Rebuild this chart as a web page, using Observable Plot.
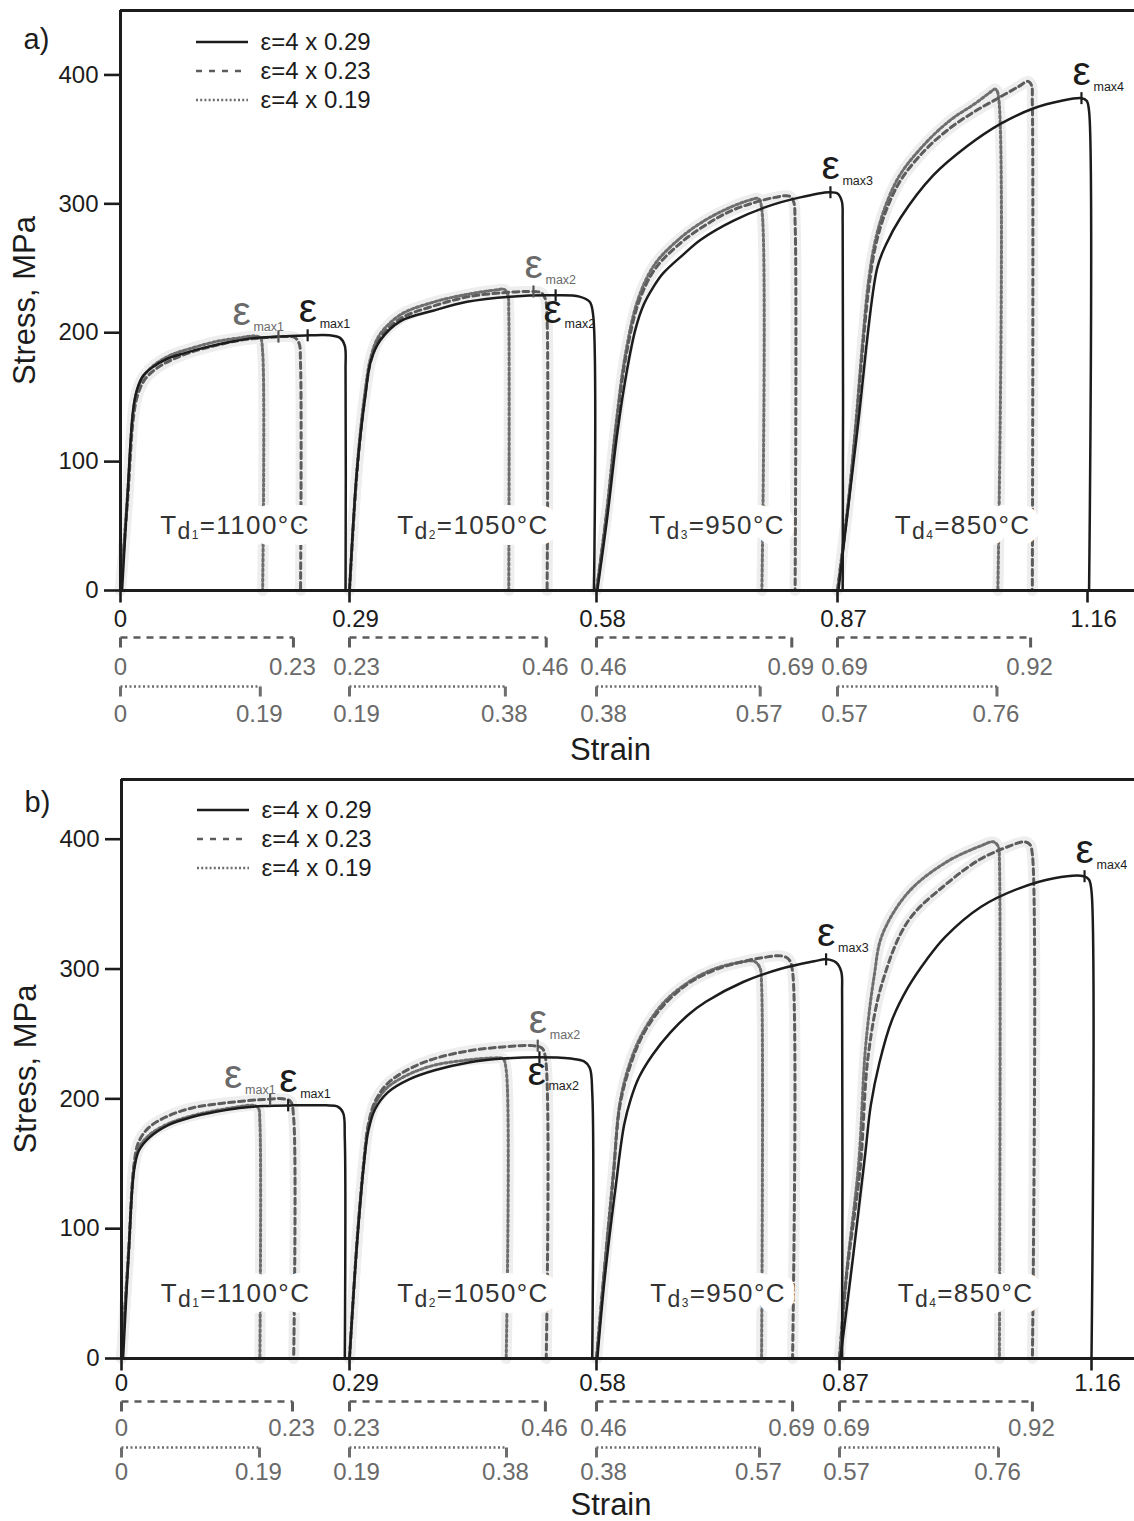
<!DOCTYPE html>
<html><head><meta charset="utf-8">
<script src="https://cdn.jsdelivr.net/npm/d3@7"></script>
<script src="https://cdn.jsdelivr.net/npm/@observablehq/plot@0.6"></script>
<style>body{margin:0;background:#fff}svg{display:block}</style>
</head><body><div id="chart"></div>
<script>
// ---------- shared labels ----------
const passStarts = [0, 0.29, 0.58, 0.87];
const axisKnots = [0, 0.29, 0.58, 0.87, 1.16, 1.22];
const mainTicks = [0, 0.29, 0.58, 0.87, 1.16];
const mainTickLabels = ["0", "0.29", "0.58", "0.87", "1.16"];
const dashRowLabels = ["0", "0.23", "0.23", "0.46", "0.46", "0.69", "0.69", "0.92"];
const dotRowLabels = ["0", "0.19", "0.19", "0.38", "0.38", "0.57", "0.57", "0.76"];
const yTicks = [0, 100, 200, 300, 400];
const legendLabels = ["ε=4 x 0.29", "ε=4 x 0.23", "ε=4 x 0.19"];
const tempLabels = ["Td1=1100°C", "Td2=1050°C", "Td3=950°C", "Td4=850°C"];
const tempStress = 50;

// ---------- panel a: [strain within pass, stress MPa] ----------
const aSolid = [
  [[0.002,0],[0.009,75],[0.016,140],[0.021,156],[0.028,166],[0.04,173],[0.06,180],[0.08,184],[0.11,189],[0.14,193],[0.17,196],[0.2,197],[0.24,198],[0.265,198],[0.278,196],[0.284,190],[0.285,170],[0.285,0]],
  [[0,0],[0.009,95],[0.019,153],[0.025,178],[0.036,194],[0.06,209],[0.098,217],[0.138,224],[0.189,228],[0.242,229],[0.27,228],[0.282,224],[0.286,214],[0.287,0]],
  [[0.001,0],[0.013,57],[0.025,122],[0.037,172],[0.047,203],[0.057,222],[0.068,235],[0.08,246],[0.105,261],[0.125,272],[0.165,287],[0.206,298],[0.245,305],[0.28,309],[0.29,308],[0.295,302],[0.296,285],[0.296,0]],
  [[0.001,0],[0.023,124],[0.046,250],[0.056,268],[0.073,289],[0.111,322],[0.151,345],[0.189,362],[0.227,374],[0.26,380],[0.283,382],[0.289,380],[0.292,372],[0.292,0]]
];
const aDash = [
  [[0,0],[0.009,70],[0.016,132],[0.021,150],[0.03,163],[0.045,172],[0.065,179],[0.09,185],[0.12,190],[0.15,194],[0.18,196],[0.205,197],[0.22,196.5],[0.226,192],[0.228,175],[0.228,0]],
  [[0,0],[0.009,93],[0.018,150],[0.025,178],[0.035,195],[0.06,211],[0.1,221],[0.14,228],[0.18,231],[0.21,232],[0.225,231],[0.23,226],[0.232,210],[0.232,0]],
  [[0,0],[0.012,58],[0.024,128],[0.035,180],[0.05,222],[0.07,249],[0.1,269],[0.13,283],[0.16,294],[0.19,301],[0.215,305],[0.232,306],[0.237,302],[0.239,285],[0.239,0]],
  [[0,0],[0.013,70],[0.021,124],[0.029,186],[0.036,233],[0.044,267],[0.056,294],[0.073,318],[0.102,342],[0.131,359],[0.16,372],[0.189,383],[0.21,391],[0.221,395],[0.225,392],[0.226,378],[0.226,0]]
];
const aDot = [
  [[0,0],[0.009,75],[0.016,138],[0.021,155],[0.03,167],[0.045,176],[0.065,183],[0.09,188],[0.12,193],[0.15,196],[0.17,197.5],[0.177,196],[0.18,185],[0.18,0]],
  [[0,0],[0.009,96],[0.018,153],[0.025,181],[0.035,198],[0.06,214],[0.1,224],[0.14,230],[0.17,233],[0.182,233.5],[0.186,229],[0.187,215],[0.187,0]],
  [[0,0],[0.012,60],[0.024,132],[0.035,184],[0.05,226],[0.07,253],[0.1,273],[0.13,287],[0.16,297],[0.185,303],[0.195,304],[0.199,295],[0.199,0]],
  [[0,0],[0.013,72],[0.021,128],[0.029,192],[0.036,240],[0.044,272],[0.056,299],[0.073,323],[0.102,347],[0.131,365],[0.16,378],[0.176,386],[0.183,389],[0.186,386],[0.186,0]]
];
const aDashEnds = [0.219, 0.231, 0.235, 0.224];
const aDotEnds = [0.177, 0.183, 0.197, 0.185];
const aPeaks = [
  {pass: 0, s: 0.200, v: 197, sub: "max1", tone: "gray", place: "aboveLeft"},
  {pass: 0, s: 0.237, v: 198, sub: "max1", tone: "black", place: "above"},
  {pass: 1, s: 0.216, v: 232, sub: "max2", tone: "gray", place: "above"},
  {pass: 1, s: 0.242, v: 229, sub: "max2", tone: "black", place: "below"},
  {pass: 2, s: 0.2815, v: 309, sub: "max3", tone: "black", place: "above"},
  {pass: 3, s: 0.283, v: 382, sub: "max4", tone: "black", place: "above"}
];

// ---------- panel b ----------
const bSolid = [
  [[0.002,0],[0.009,80],[0.016,145],[0.022,160],[0.035,170],[0.06,180],[0.09,186],[0.12,190],[0.15,193],[0.18,194.5],[0.22,195],[0.26,195],[0.275,194],[0.282,189],[0.284,170],[0.284,0]],
  [[0,0],[0.009,90],[0.017,150],[0.022,175],[0.03,192],[0.045,205],[0.07,215],[0.1,222],[0.14,228],[0.18,231],[0.22,232],[0.26,231],[0.275,229],[0.282,224],[0.285,205],[0.285,0]],
  [[0.001,0],[0.01,63],[0.023,133],[0.033,180],[0.041,200],[0.051,217],[0.067,234],[0.088,251],[0.11,265],[0.131,275],[0.175,290],[0.219,300],[0.26,306],[0.274,307.5],[0.286,305],[0.292,298],[0.293,280],[0.293,0]],
  [[0.001,0],[0.015,75],[0.03,160],[0.036,195],[0.046,228],[0.06,260],[0.079,286],[0.1,307],[0.122,325],[0.163,348],[0.206,362],[0.247,370],[0.281,371.5],[0.287,369],[0.29,360],[0.29,0]]
];
const bDash = [
  [[0,0],[0.009,82],[0.016,150],[0.022,167],[0.035,178],[0.06,187],[0.09,193],[0.12,196],[0.15,198],[0.18,199.5],[0.205,200],[0.215,198],[0.219,185],[0.219,0]],
  [[0,0],[0.009,92],[0.017,153],[0.022,180],[0.03,198],[0.045,212],[0.07,223],[0.1,231],[0.14,237],[0.18,240],[0.215,241],[0.226,239],[0.23,232],[0.231,0]],
  [[0,0],[0.009,65],[0.02,140],[0.028,195],[0.04,225],[0.056,250],[0.08,272],[0.11,289],[0.14,299],[0.17,305],[0.2,309],[0.222,310],[0.23,307],[0.234,298],[0.234,0]],
  [[0,0],[0.008,63],[0.024,148],[0.033,233],[0.049,289],[0.079,337],[0.122,365],[0.163,385],[0.197,395],[0.212,398],[0.219,396],[0.222,388],[0.222,0]]
];
const bDot = [
  [[0,0],[0.009,81],[0.016,147],[0.022,162],[0.035,172],[0.06,181],[0.09,187],[0.12,191],[0.15,194],[0.168,195],[0.174,193],[0.176,182],[0.176,0]],
  [[0,0],[0.009,91],[0.017,152],[0.022,178],[0.03,196],[0.045,209],[0.07,219],[0.1,226],[0.14,230],[0.17,231.5],[0.18,231],[0.184,222],[0.184,0]],
  [[0,0],[0.009,66],[0.02,142],[0.028,197],[0.04,228],[0.056,252],[0.08,274],[0.11,290],[0.14,300],[0.17,305],[0.188,306],[0.195,301],[0.197,288],[0.197,0]],
  [[0,0],[0.008,65],[0.022,150],[0.03,240],[0.04,295],[0.049,326],[0.079,359],[0.122,382],[0.163,395],[0.177,398],[0.183,394],[0.184,385],[0.184,0]]
];
const bDashEnds = [0.2175, 0.230, 0.234, 0.222];
const bDotEnds = [0.1755, 0.1843, 0.1945, 0.183];
const bPeaks = [
  {pass: 0, s: 0.189, v: 199.5, sub: "max1", tone: "gray", place: "aboveLeft"},
  {pass: 0, s: 0.212, v: 195, sub: "max1", tone: "black", place: "above"},
  {pass: 1, s: 0.221, v: 241, sub: "max2", tone: "gray", place: "above"},
  {pass: 1, s: 0.223, v: 232, sub: "max2", tone: "black", place: "below"},
  {pass: 2, s: 0.274, v: 307.5, sub: "max3", tone: "black", place: "above"},
  {pass: 3, s: 0.282, v: 371.5, sub: "max4", tone: "black", place: "above"}
];

// ---------- styling ----------
const FONT = "'Liberation Sans', Arial, Helvetica, sans-serif";
const INK = "#1c1c1c", DASH = "#5c5c5c", DOT = "#6e6e6e", GTXT = "#6a6a6a", HALO = "#eeeeee";
const tones = {black: INK, gray: "#6a6a6a"};
const places = {
  aboveLeft: {edx: -46, edy: -12, mdx: -25, mdy: -6},
  above: {edx: -9, edy: -13, mdx: 12, mdy: -7},
  below: {edx: -12, edy: 28, mdx: 9, mdy: 33}
};
const vbar = {draw(ctx, size) { const r = Math.sqrt(size / Math.PI); ctx.moveTo(0, -r); ctx.lineTo(0, r); }};
const downTick = {draw(ctx, size) { const r = Math.sqrt(size / Math.PI); ctx.moveTo(0, 0); ctx.lineTo(0, r); }};

function rows(series, name) {
  const out = [];
  series.forEach((pts, k) => pts.forEach(([s, v]) => out.push({key: name + k, x: passStarts[k] + s, y: v})));
  return out;
}
function bracketTicks(ends, labels) {
  return passStarts.flatMap((s, k) => [
    {x: s, label: labels[2 * k], side: k === 0 ? "origin" : "start"},
    {x: s + ends[k], label: labels[2 * k + 1], side: "end"}]);
}
function bracketSpans(ends) { return passStarts.map((s, k) => ({x1: s, x2: s + ends[k]})); }
const labelShift = {origin: 0, start: 7, end: -1};

function legendLines(top) {
  const styles = [
    {stroke: INK, width: 2.6, dash: null},
    {stroke: DASH, width: 2.6, dash: "6,7"},
    {stroke: DOT, width: 2.6, dash: "2,2.2"}
  ];
  return function (index, scales, values, dims) {
    const g = d3.create("svg:g");
    styles.forEach((st, i) => {
      const y = dims.marginTop + top + 29 * i;
      const l = g.append("line").attr("x1", dims.marginLeft + 76).attr("x2", dims.marginLeft + 128)
        .attr("y1", y).attr("y2", y).attr("stroke", st.stroke).attr("stroke-width", st.width);
      if (st.dash) l.attr("stroke-dasharray", st.dash);
    });
    return g.node();
  };
}

function richText(svg) {
  const ns = "http://www.w3.org/2000/svg";
  svg.querySelectorAll("text").forEach(t => {
    const m = t.textContent.match(/^Td(\d)(=.+)$/);
    if (!m) return;
    t.textContent = "";
    const add = (txt, attrs) => {
      const s = document.createElementNS(ns, "tspan");
      s.textContent = txt;
      for (const k in attrs) s.setAttribute(k, attrs[k]);
      t.appendChild(s);
    };
    add("T", {});
    add("d", {"font-size": 23, dy: 5});
    add(m[1], {"font-size": 12});
    add(m[2], {"font-size": 26, dy: -5});
    t.setAttribute("letter-spacing", "1.4");
  });
}

function panel(P) {
  const L = P.layout;
  // the original figure's strain axis is not uniformly spaced between its ticks
  const px = L.knotPixels;
  const warp = d3.scaleLinear().domain(axisKnots).range(px.map(p => (p - px[0]) * 1.16 / (px[4] - px[0])));
  const s29 = rows(P.solid, "s"), s23 = rows(P.dash, "d"), s19 = rows(P.dot, "o");
  const peaks = P.peaks.map(p => ({x: passStarts[p.pass] + p.s, y: p.v, sub: p.sub, tone: p.tone, place: p.place}));
  const temps = tempLabels.map((t, k) => ({x: passStarts[k] + 0.145, y: tempStress, t}));
  const mainTickData = mainTicks.map((x, i) => ({x, label: mainTickLabels[i], side: i === 0 ? "origin" : "start"}));
  const peakMarks = [];
  for (const place of Object.keys(places)) {
    for (const tone of Object.keys(tones)) {
      const sel = peaks.filter(p => p.place === place && p.tone === tone);
      if (!sel.length) continue;
      const o = places[place];
      peakMarks.push(
        Plot.text(sel, {x: "x", y: "y", text: () => "ε", dx: o.edx, dy: o.edy, fontSize: 41, textAnchor: "start", lineAnchor: "bottom", fill: tones[tone]}),
        Plot.text(sel, {x: "x", y: "y", text: "sub", dx: o.mdx, dy: o.mdy, fontSize: 12.5, textAnchor: "start", lineAnchor: "bottom", fill: tones[tone]})
      );
    }
  }
  const rowMarks = [];
  for (const [ends, labels, color, dash, lineDy, labDy] of [
    [P.dashEnds, dashRowLabels, DASH, "7,6", L.rowDash, L.labDash],
    [P.dotEnds, dotRowLabels, DOT, "2,2.5", L.rowDot, L.labDot]]) {
    const ticks = bracketTicks(ends, labels);
    rowMarks.push(
      Plot.link(bracketSpans(ends), {x1: "x1", x2: "x2", y1: 0, y2: 0, dy: lineDy, stroke: color, strokeWidth: 2.6, strokeDasharray: dash}),
      Plot.dot(ticks, {x: "x", y: 0, dy: lineDy, symbol: downTick, r: 10, stroke: color, strokeWidth: 3, fill: "none"})
    );
    for (const side of Object.keys(labelShift)) {
      rowMarks.push(Plot.text(ticks.filter(t => t.side === side), {x: "x", y: 0, dx: labelShift[side], dy: labDy, text: "label", fontSize: 24, fill: GTXT}));
    }
  }
  const legendText = legendLabels.map((t, i) =>
    Plot.text([t], {text: d => d, frameAnchor: "top-left", dx: 140, dy: L.legendTop + 29 * i, lineAnchor: "middle", fontSize: 24, textAnchor: "start", fill: INK}));
  const curve = "catmull-rom";
  const svg = Plot.plot({
    width: 1134, height: L.height,
    marginTop: L.top, marginBottom: L.bottom, marginLeft: px[0], marginRight: 0,
    style: {fontFamily: FONT, background: "#fff", color: INK, overflow: "visible"},
    x: {type: "linear", transform: warp, domain: [0, warp(1.22)], axis: null},
    y: {domain: [0, L.yMax], axis: null},
    marks: [
      Plot.line(s23, {x: "x", y: "y", z: "key", stroke: HALO, strokeWidth: 11, curve}),
      Plot.line(s19, {x: "x", y: "y", z: "key", stroke: HALO, strokeWidth: 11, curve}),
      Plot.line(s19, {x: "x", y: "y", z: "key", stroke: DOT, strokeWidth: 3, strokeDasharray: "2.5,2.5", curve}),
      Plot.line(s23, {x: "x", y: "y", z: "key", stroke: DASH, strokeWidth: 3, strokeDasharray: "6,4", curve}),
      Plot.line(s29, {x: "x", y: "y", z: "key", stroke: INK, strokeWidth: 2.5, curve}),
      Plot.text(temps, {x: "x", y: "y", text: "t", fontSize: 26, fill: "#fff", stroke: "#fff", strokeWidth: 22, strokeLinejoin: "round"}),
      Plot.text(temps, {x: "x", y: "y", text: "t", fontSize: 26, fill: "#333"}),
      Plot.ruleX([0], {stroke: INK, strokeWidth: 3}),
      Plot.ruleY([0], {stroke: INK, strokeWidth: 3}),
      Plot.ruleY([L.yMax], {stroke: INK, strokeWidth: 3}),
      Plot.axisY({ticks: yTicks, tickSize: 16, tickPadding: 6, fontSize: 24, color: INK, strokeWidth: 2.6, label: null}),
      Plot.dot(mainTickData, {x: "x", y: 0, symbol: downTick, r: 12, stroke: INK, strokeWidth: 2.6, fill: "none"}),
      Plot.text(mainTickData.filter(d => d.side === "origin"), {x: "x", y: 0, dy: L.labMain, text: "label", fontSize: 24, fill: INK}),
      Plot.text(mainTickData.filter(d => d.side === "start"), {x: "x", y: 0, dx: 6, dy: L.labMain, text: "label", fontSize: 24, fill: INK}),
      ...rowMarks,
      Plot.dot(peaks.filter(p => p.tone === "black"), {x: "x", y: "y", symbol: vbar, r: 6, stroke: INK, strokeWidth: 2.2, fill: "none"}),
      Plot.dot(peaks.filter(p => p.tone === "gray"), {x: "x", y: "y", symbol: vbar, r: 6, stroke: "#555", strokeWidth: 2.2, fill: "none"}),
      ...peakMarks,
      ...legendText,
      legendLines(L.legendTop),
      Plot.text([P.tag], {text: d => d, frameAnchor: "top-left", dx: -97, dy: L.tagDy, lineAnchor: "middle", fontSize: 29, textAnchor: "start", fill: INK}),
      Plot.text(["Stress, MPa"], {text: d => d, frameAnchor: "left", dx: -95, rotate: -90, textAnchor: "middle", lineAnchor: "middle", fontSize: 31, fill: INK}),
      Plot.text(["Strain"], {text: d => d, frameAnchor: "bottom", dx: -17, dy: L.strainDy, textAnchor: "middle", lineAnchor: "middle", fontSize: 31, fill: INK})
    ]
  });
  richText(svg);
  return svg;
}

const root = document.getElementById("chart");
root.appendChild(panel({
  tag: "a)", solid: aSolid, dash: aDash, dot: aDot, dashEnds: aDashEnds, dotEnds: aDotEnds, peaks: aPeaks,
  layout: {height: 760, top: 10, bottom: 170, yMax: 450, knotPixels: [120, 349, 596, 837, 1087, 1134],
    labMain: 29, rowDash: 47, labDash: 77, rowDot: 96, labDot: 124, strainDy: 160, legendTop: 32, tagDy: 29}
}));
root.appendChild(panel({
  tag: "b)", solid: bSolid, dash: bDash, dot: bDot, dashEnds: bDashEnds, dotEnds: bDotEnds, peaks: bPeaks,
  layout: {height: 761, top: 19, bottom: 163, yMax: 446, knotPixels: [121, 349, 596, 839, 1091, 1134],
    labMain: 25, rowDash: 43, labDash: 70, rowDot: 89, labDot: 114, strainDy: 147, legendTop: 31, tagDy: 23}
}));
</script>
</body></html>
